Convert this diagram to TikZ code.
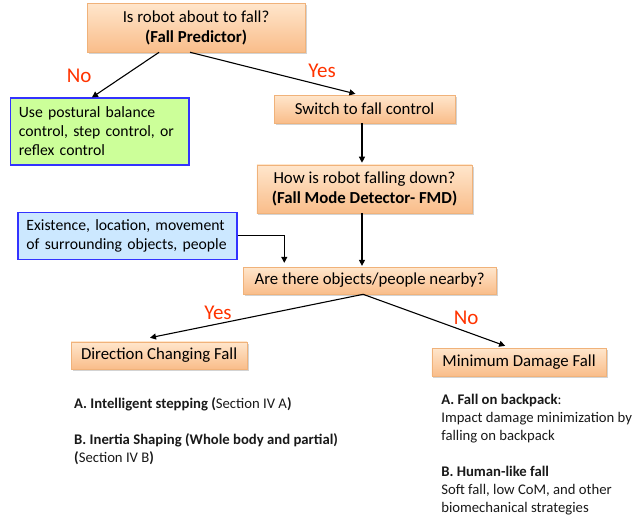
\documentclass[tikz,border=0pt]{standalone}
\usepackage{fontspec}
\setmainfont{Carlito}
\usepackage{xcolor}
\usetikzlibrary{arrows.meta,positioning,shadows,calc}

\definecolor{peachtop}{HTML}{FFE6CC}
\definecolor{peachbot}{HTML}{F9BD8A}
\definecolor{peachline}{HTML}{F0B27A}
\definecolor{limefill}{HTML}{CCFF99}
\definecolor{skyfill}{HTML}{CCE8FF}
\definecolor{frameblue}{HTML}{3333FF}
\definecolor{choicered}{HTML}{FF3300}

\begin{document}
\begin{tikzpicture}[
    box/.style={rectangle, draw=peachline, top color=peachtop, bottom color=peachbot,
                drop shadow={shadow xshift=1.5pt, shadow yshift=-2pt, opacity=0.35},
                font=\fontsize{16.8}{20}\selectfont, align=center, inner sep=0pt},
    notebox/.style={rectangle, draw=frameblue, line width=1.2pt,
                    font=\fontsize{15.7}{19}\selectfont, align=left,
                    inner ysep=0pt, inner xsep=8pt},
    arrow/.style={-{Triangle[length=6pt,width=6pt]}, line width=1.1pt, black},
    choice/.style={font=\fontsize{21}{25}\selectfont, text=choicered, inner sep=0pt},
    notes/.style={font=\fontsize{14.7}{18}\selectfont, align=left, inner sep=0pt, text=black!90}
]
    \useasboundingbox (0,0) rectangle (22.63,-18.21);

    \node[box] (pred) at (6.89,-0.97) [minimum width=7.66cm, minimum height=1.72cm]
        {Is robot about to fall?\\\textbf{(Fall Predictor)}};
    \node[notebox, fill=limefill] (still) at (3.51,-4.62) [text width=162pt, minimum height=2.35cm]
        {Use postural balance\\control, step control, or\\reflex control};
    \node[box] (switch) at (12.81,-3.83) [minimum width=6.36cm, minimum height=0.98cm]
        {Switch to fall control};
    \node[box] (fmd) at (12.81,-6.64) [minimum width=7.56cm, minimum height=1.69cm]
        {How is robot falling down?\\\textbf{(Fall Mode Detector- FMD)}};
    \node[notebox, fill=skyfill] (env) at (4.48,-8.28) [text width=202pt, inner xsep=8.5pt, minimum height=1.65cm]
        {Existence, location, movement\\of surrounding objects, people};
    \node[box] (near) at (12.99,-9.86) [minimum width=8.89cm, minimum height=0.95cm]
        {Are there objects/people nearby?};
    \node[box] (dcf) at (5.59,-12.49) [minimum width=6.19cm, minimum height=0.95cm]
        {Direction Changing Fall};
    \node[box] (mdf) at (18.24,-12.72) [minimum width=6.12cm, minimum height=0.98cm]
        {Minimum Damage Fall};

    \draw[arrow] ([xshift=-1.30cm]pred.south) -- ([xshift=-0.28cm]still.north);
    \draw[arrow] ([xshift=-0.21cm]pred.south) -- ([xshift=-0.32cm,yshift=1pt]switch.north);
    \draw[arrow] ([xshift=-0.09cm]switch.south) -- ([xshift=-0.09cm,yshift=2pt]fmd.north);
    \draw[arrow] (env.east) -| ([xshift=-3.0cm,yshift=4pt]near.north);
    \draw[arrow] ([xshift=-0.09cm]fmd.south) -- ([xshift=-0.09cm,yshift=1pt]fmd.south |- near.north);
    \draw[arrow] ([xshift=-0.23cm]near.south) -- ([xshift=-0.32cm,yshift=4pt]dcf.north);
    \draw[arrow] ([xshift=-0.23cm]near.south) -- ([xshift=-0.49cm,yshift=2pt]mdf.north);

    % decision labels
    \node[choice] (no1)  at (2.78,-2.67)  {No};
    \node[choice] (yes1) at (11.32,-2.50) {Yes};
    \node[choice] (yes2) at (7.66,-11.00) {Yes};
    \node[choice] (no2)  at (16.38,-11.18) {No};

    % strategy notes
    \node[notes, anchor=north west] (leftnotes) at (2.60,-13.95)
        {\textbf{A. Intelligent stepping (}Section IV A\textbf{)}\\[18pt]
         \textbf{B. Inertia Shaping (Whole body and partial)}\\
         \textbf{(}Section IV B\textbf{)}};
    \node[notes, anchor=north west] (rightnotes) at (15.50,-13.85)
        {\textbf{A. Fall on backpack}:\\
         Impact damage minimization by\\
         falling on backpack\\[18pt]
         \textbf{B. Human-like fall}\\
         Soft fall, low CoM, and other\\
         biomechanical strategies};
\end{tikzpicture}
\end{document}
